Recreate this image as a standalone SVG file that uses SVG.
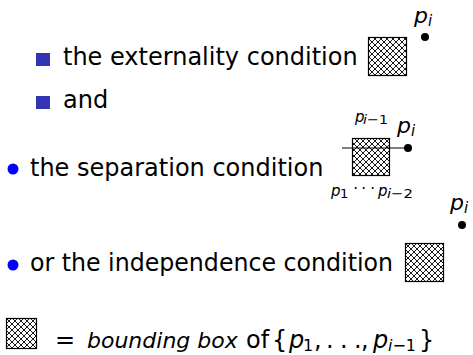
<svg xmlns="http://www.w3.org/2000/svg" width="473" height="355" viewBox="0 0 473 355">
<style>
  text { font-family: "DejaVu Sans", "Liberation Sans", sans-serif; fill: #000; }
  .main { font-size: 24px; }
  .it { font-style: italic; }
  .pbig { font-size: 22px; font-style: italic; }
  .ibig { font-size: 15px; font-style: italic; }
  .psm { font-size: 15px; font-style: italic; }
  .sub { font-size: 13px; }
  .sub17 { font-size: 16px; }
  .sq { fill: #3333B3; }
  .dotb { fill: #0000FF; }
  .box { fill: url(#hatch); stroke: #000; stroke-width: 1.2; }
  .pt { fill: #000; }
</style>
<defs>
  <pattern id="hatch" patternUnits="userSpaceOnUse" width="6" height="6">
    <rect width="6" height="6" fill="#fff"/>
    <path d="M-1,-1 L7,7 M7,-1 L-1,7" stroke="#000" stroke-width="0.9" fill="none"/>
  </pattern>
</defs>
<rect width="473" height="355" fill="#fff"/>

<g id="item-externality">
  <rect class="sq" x="36" y="53" width="14" height="13"/>
  <text class="main" x="63" y="65">the externality condition</text>
  <rect class="box" x="368.5" y="37.5" width="38" height="38"/>
  <circle class="pt" cx="425" cy="37" r="4"/>
  <text class="pbig" x="414" y="23">p</text>
  <text class="ibig" x="428" y="26">i</text>
</g>

<g id="item-and">
  <rect class="sq" x="36" y="96" width="14" height="13"/>
  <text class="main" x="63" y="108">and</text>
</g>

<g id="item-separation">
  <circle class="dotb" cx="13" cy="169" r="5.5"/>
  <text class="main" x="30" y="176">the separation condition</text>
  <rect class="box" x="352.5" y="138.5" width="37" height="37"/>
  <circle class="pt" cx="408" cy="148" r="4"/>
  <text class="pbig" x="397" y="133">p</text>
  <text class="ibig" x="411" y="136">i</text>
  <text class="psm" x="355" y="122">p</text>
  <text class="sub" x="363" y="124" textLength="25" lengthAdjust="spacingAndGlyphs"><tspan class="it">i</tspan>−1</text>
  <text class="psm" x="331" y="196">p</text>
  <text class="sub" x="340" y="198">1</text>
  <text class="psm" x="353 361 370" y="194">···</text>
  <text class="psm" x="378" y="196">p</text>
  <text class="sub" x="387" y="198" textLength="26" lengthAdjust="spacingAndGlyphs"><tspan class="it">i</tspan>−2</text>
</g>

<g id="item-independence">
  <circle class="dotb" cx="13" cy="265" r="5.5"/>
  <text class="main" x="30" y="271" textLength="363" lengthAdjust="spacingAndGlyphs">or the independence condition</text>
  <rect class="box" x="405.5" y="243.5" width="38" height="38"/>
  <circle class="pt" cx="462" cy="225" r="4"/>
  <text class="pbig" x="450" y="210">p</text>
  <text class="ibig" x="464" y="213">i</text>
</g>

<g id="legend">
  <rect class="box" x="6.5" y="318.5" width="30" height="30"/>
  <text class="main" x="55" y="348">=</text>
  <text class="it" x="87" y="348" style="font-size:22px">bounding box</text>
  <text class="main" x="246" y="348">of</text>
  <text class="main" x="272" y="348">{</text>
  <text class="main it" x="289" y="348">p</text>
  <text class="sub17" x="303" y="351">1</text>
  <text class="main" x="314" y="348">,</text>
  <text class="main" x="326 340 354" y="348">...</text>
  <text class="main" x="361" y="348">,</text>
  <text class="main it" x="373" y="348">p</text>
  <text class="sub17" x="388" y="351"><tspan class="it">i</tspan>−1</text>
  <text class="main" x="419" y="348">}</text>
</g>

<g id="connectors">
  <line x1="342" y1="148" x2="408" y2="148" stroke="#000" stroke-width="1"/>
</g>
</svg>
